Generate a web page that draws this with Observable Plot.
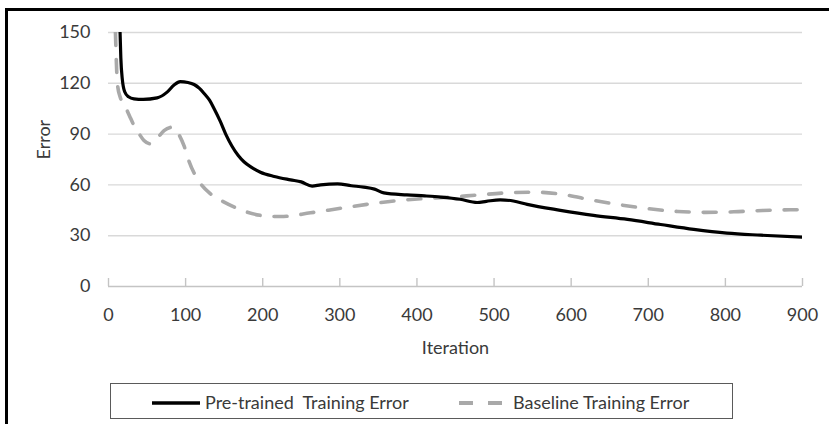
<!DOCTYPE html>
<html>
<head>
<meta charset="utf-8">
<script src="https://cdn.jsdelivr.net/npm/d3@7"></script>
<script src="https://cdn.jsdelivr.net/npm/@observablehq/plot@0.6"></script>
<style>
  html, body { margin: 0; padding: 0; background: #fff; }
  #wrap { position: relative; width: 829px; height: 424px; overflow: hidden; font-family: Lato, "Liberation Sans", Arial, sans-serif; }
  #frame { position: absolute; left: 5px; top: 8px; width: 900px; height: 500px; border-top: 3px solid #000; border-left: 3px solid #000; box-sizing: border-box; }
  #chart { position: absolute; left: 0; top: 0; }
  #legend { position: absolute; left: 110px; top: 383px; width: 623px; height: 36px; box-sizing: border-box; border: 1.3px solid #5a5a5a; background: #fff; }
  #legend svg { position: absolute; left: 0; top: 0; }
</style>
</head>
<body>
<div id="wrap">
  <div id="frame"></div>
  <div id="chart"></div>
  <div id="legend"></div>
</div>
<script>
// ---- data ----
const pretrainedIter = [15,16,18,21,26,33,45,63,76,85,93,103,111,118,124,131,137,145,152,160,168,176,185,197,215,236,250,264,275,297,315,331,345,357,387,410,431,456,478,490,508,525,543,586,629,673,716,759,802,846,900];
const pretrainedErr  = [150,135,122,115,112,110.8,110.5,111.4,114.8,119,121,120.5,119.3,117,114,110,105,97.5,90,83,77.5,73.5,70.5,67.5,65,63,61.8,59.3,60,60.6,59.5,58.7,57.5,55.3,54.1,53.5,52.8,51.5,49.6,50.3,51.2,50.5,48.5,45,42,39.6,36.6,33.7,31.5,30.3,29.1];
const baselineIter = [9,10,11.5,15,20,27,33,40,46,54,63,72,83,91,98,104,111,119,132,150,165,180,197,215,223,262,297,335,370,405,444,480,517,554,591,627,664,701,738,774,811,848,884,900];
const baselineErr  = [150,135,120,112,107.9,101,95.1,90,86.2,84.3,87.5,92,94.1,90,83,74.5,67,61,54.8,49.8,46.5,43.9,42,41.3,41.3,43.5,45.9,48.5,50.5,51.8,52.8,54.1,55.3,55.7,54.2,51,48.2,45.9,44.3,43.8,44.1,44.9,45.3,45.4];
const xTicks = [0,100,200,300,400,500,600,700,800,900];
const yTicks = [0,30,60,90,120,150];
const seriesNames = ["Pre-trained  Training Error", "Baseline Training Error"];
const xTitle = "Iteration";
const yTitle = "Error";

const pre = pretrainedIter.map((x, i) => ({x, y: pretrainedErr[i]}));
const base = baselineIter.map((x, i) => ({x, y: baselineErr[i]}));

const textColor = "#3a3a3a";
const fontSize = 18;

const chart = Plot.plot({
  width: 829,
  height: 370,
  marginLeft: 108,
  marginRight: 27,
  marginTop: 32,
  marginBottom: 84,
  style: { fontFamily: "Lato, 'Liberation Sans', Arial, sans-serif", fontSize: fontSize + "px", color: textColor, background: "transparent", overflow: "visible" },
  x: { domain: [0, 900] },
  y: { domain: [0, 150] },
  marks: [
    Plot.gridY(yTicks.filter(d => d > 0), { stroke: "#d9d9d9", strokeOpacity: 1, strokeWidth: 1.4 }),
    Plot.ruleY([0], { stroke: "#c4c4c4", strokeWidth: 1.4 }),
    Plot.ruleX(xTicks, { x: d => d, y1: 0, y2: 0, insetTop: -8, stroke: "#c4c4c4", strokeWidth: 1.4 }),
    Plot.axisY(yTicks, { tickSize: 0, tickPadding: 18, fontSize: fontSize, fill: textColor, label: null }),
    Plot.axisX(xTicks, { tickSize: 0, tickPadding: 22, fontSize: fontSize, fill: textColor, label: null }),
    Plot.text([yTitle], { frameAnchor: "left", rotate: -90, dx: -64, fontSize: fontSize, fill: textColor }),
    Plot.text([xTitle], { frameAnchor: "bottom", dy: 67, fontSize: fontSize, fill: textColor }),
    Plot.line(base, { x: "x", y: "y", curve: "monotone-x", stroke: "#a9a9a9", strokeWidth: 3.6, strokeDasharray: "13,14", clip: true }),
    Plot.line(pre, { x: "x", y: "y", curve: "monotone-x", stroke: "#000", strokeWidth: 3.2, clip: true })
  ]
});
document.getElementById("chart").appendChild(chart);

// ---- legend ----
const ns = "http://www.w3.org/2000/svg";
const lg = document.createElementNS(ns, "svg");
lg.setAttribute("width", 621);
lg.setAttribute("height", 34);
lg.innerHTML = `
  <line x1="41" x2="89" y1="19" y2="19" stroke="#000" stroke-width="3.6"/>
  <text x="94" y="25" font-size="${fontSize}" fill="${textColor}" font-family="Lato, 'Liberation Sans', Arial, sans-serif" xml:space="preserve">${seriesNames[0]}</text>
  <line x1="348" x2="392" y1="19" y2="19" stroke="#a9a9a9" stroke-width="3.8" stroke-dasharray="14,15"/>
  <text x="402" y="25" font-size="${fontSize}" fill="${textColor}" font-family="Lato, 'Liberation Sans', Arial, sans-serif">${seriesNames[1]}</text>
`;
document.getElementById("legend").appendChild(lg);
</script>
</body>
</html>
